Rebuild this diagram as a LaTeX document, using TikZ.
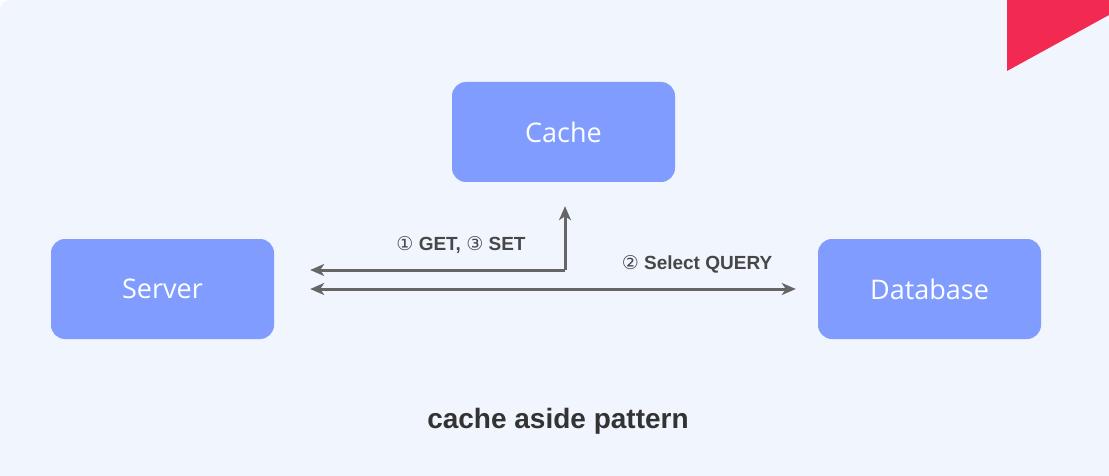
\documentclass[tikz,border=0pt]{standalone}
\usepackage{fontspec}
\setmainfont{Liberation Sans}
\newfontfamily\boxfont{Open Sans}
\newfontfamily\symfont{DejaVu Sans}
\usetikzlibrary{arrows.meta}
\definecolor{bgblue}{HTML}{F1F5FE}
\definecolor{boxblue}{HTML}{809CFF}
\definecolor{arrowgray}{HTML}{666666}
\definecolor{textgray}{HTML}{333333}
\definecolor{cornerred}{HTML}{F22A52}

\begin{document}
\begin{tikzpicture}[x=1pt,y=-1pt]
\useasboundingbox (0,0) rectangle (1109,476);
\fill[white] (0,0) rectangle (1109,476);
\fill[bgblue] (0,476) [rounded corners=10pt] -- (0,0) [sharp corners] -- (1109,0) -- (1109,476) -- cycle;
\fill[cornerred] (1007,0) -- (1109,0) -- (1109,15) -- (1007,71) -- cycle;

\begin{scope}[every node/.style={rectangle,rounded corners=14pt,fill=boxblue,text=white,
              minimum width=223pt,minimum height=100pt,inner sep=0pt,
              font=\boxfont\fontsize{27}{32}\selectfont}]
    \node (cache) at (563.5,132) {Cache};
    \node (server) at (162.5,289) {Server};
    \node (database) at (929.5,289) {Database};
\end{scope}

\begin{scope}[every node/.style={text=textgray!90,font=\bfseries\fontsize{19}{22}\selectfont}]
    \node (gettext) at (461,245) {{\symfont\mdseries ①} GET, {\symfont\mdseries ③} SET};
    \node (querytext) at (697,264) {{\symfont\mdseries ②} Select QUERY};
    \node (caption) at (558,421) [text=textgray,font=\bfseries\fontsize{28}{32}\selectfont] {cache aside pattern};
\end{scope}

\coordinate (corner) at (565,270);

\begin{scope}[>={Stealth[length=14pt,width=12pt,inset=4pt]},
              link/.style={draw=arrowgray,line width=3pt}]
    \draw [link,->,shorten >=24pt] (corner) -- (cache.south -| corner);
    \draw [link,->,shorten >=36pt] (corner) -- (server.east |- corner);
    \draw [link,<->,shorten <=36pt,shorten >=22pt] (server) -- (database);
\end{scope}
\end{tikzpicture}
\end{document}
